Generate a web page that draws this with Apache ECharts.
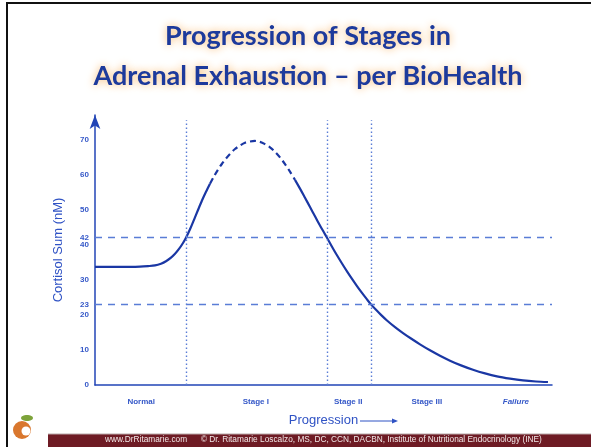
<!DOCTYPE html>
<html>
<head>
<meta charset="utf-8">
<script src="https://cdn.jsdelivr.net/npm/echarts@6/dist/echarts.min.js"></script>
<style>
  html, body { margin: 0; padding: 0; background: #fff; }
  #main { width: 591px; height: 447px; }
</style>
</head>
<body>
<div id="main"></div>
<script>
// progression (0-100) and cortisol sum (nM)
var progressX = [0, 4.38, 7.66, 9.85, 11.60, 13.13, 14.44, 15.54, 16.63, 17.51, 18.38, 19.26, 19.91, 20.79, 21.66, 22.54,
                 23.41, 24.29, 25.16, 26.04, 26.91, 27.79, 28.67, 29.54, 30.63, 31.73, 32.82, 33.92, 35.01, 36.11, 37.20,
                 38.29, 39.39, 40.48, 41.58, 42.67, 43.76, 44.86, 45.95, 47.05, 48.14, 49.23, 50.11, 50.77, 51.86, 52.95,
                 54.05, 55.14, 56.24, 57.33, 58.42, 59.52, 60.39, 61.49, 62.58, 63.89, 65.65, 67.40, 69.15, 71.12, 73.30,
                 75.49, 77.68, 80.09, 82.71, 85.34, 87.96, 90.81, 93.65, 96.50, 99.12];
var cortisol = [33.7, 33.7, 33.7, 33.75, 33.9, 34.1, 34.6, 35.3, 36.3, 37.4, 38.8, 40.5, 42.0, 44.4, 47.1, 49.9,
                52.6, 55.1, 57.4, 59.5, 61.4, 63.1, 64.6, 65.9, 67.3, 68.3, 69.1, 69.45, 69.6, 69.35, 68.7,
                67.8, 66.5, 64.9, 63.0, 60.85, 58.5, 56.0, 53.4, 50.75, 48.1, 45.5, 43.5, 42.0, 39.45, 37.0,
                34.65, 32.4, 30.25, 28.2, 26.25, 24.4, 23.0, 21.45, 20.0, 18.4, 16.5, 14.8, 13.25, 11.6, 9.9,
                8.35, 6.95, 5.6, 4.35, 3.3, 2.45, 1.8, 1.3, 1.0, 0.85];
var dashFrom = 25.16, dashTo = 43.76;   // peak part drawn dashed

var stageNames = ['Normal', 'Stage I', 'Stage II', 'Stage III', 'Failure'];
var stagePos = [10.1, 35.2, 55.4, 72.6, 92.1];
var stageBounds = [19.91, 50.77, 60.39];
var thresholds = [42, 23];
var yTicks = [0, 10, 20, 23, 30, 40, 42, 50, 60, 70];

var blue = '#2245b6';
var curveBlue = '#1a37a4';
var lightBlue = '#5a7dd6';

function seg(lo, hi) {
    var out = [];
    for (var i = 0; i < progressX.length; i++) {
        out.push(progressX[i] >= lo && progressX[i] <= hi ? [progressX[i], cortisol[i]] : [progressX[i], null]);
    }
    return out;
}

var myChart = echarts.init(document.getElementById('main'));

var option = {
    animation: false,
    title: {
        text: 'Progression of Stages in\nAdrenal Exhaustion \u2013 per BioHealth',
        left: 303,
        textAlign: 'center',
        top: 11,
        textStyle: {
            fontFamily: 'Lato',
            fontWeight: 'bold',
            fontSize: 27,
            lineHeight: 40,
            color: '#1d3a9c',
            textShadowColor: '#f7b66a',
            textShadowBlur: 8
        }
    },
    grid: { left: 95, right: 39, top: 115, bottom: 62 },
    xAxis: {
        type: 'value',
        min: 0,
        max: 100,
        splitLine: { show: false },
        axisTick: { show: false },
        axisLine: { lineStyle: { color: blue, width: 1.5 } },
        axisLabel: {
            customValues: stagePos,
            margin: 13,
            fontFamily: 'Liberation Sans',
            fontSize: 8,
            fontWeight: 'bold',
            color: '#3558c8',
            formatter: function (v) {
                var name = stageNames[stagePos.indexOf(v)] || '';
                return name === 'Failure' ? '{it|Failure}' : name;
            },
            rich: { it: { fontStyle: 'italic', fontSize: 8, fontWeight: 'bold', color: '#3558c8', fontFamily: 'Liberation Sans' } }
        },
        name: 'Progression',
        nameLocation: 'middle',
        nameGap: 29,
        nameTextStyle: { fontFamily: 'Liberation Sans', fontSize: 13, color: '#2f52c4' }
    },
    yAxis: {
        type: 'value',
        min: 0,
        max: 77,
        splitLine: { show: false },
        axisTick: { show: false },
        axisLine: { symbol: ['none', 'arrow'], symbolSize: [8, 14], lineStyle: { color: blue, width: 1.5 } },
        axisLabel: {
            customValues: yTicks,
            margin: 6,
            fontFamily: 'Liberation Sans',
            fontSize: 8,
            fontWeight: 'bold',
            color: '#3558c8'
        },
        name: 'Cortisol Sum (nM)',
        nameLocation: 'middle',
        nameGap: 30,
        nameTextStyle: { fontFamily: 'Liberation Sans', fontSize: 13, color: '#2f52c4' }
    },
    graphic: [
        { type: 'rect', shape: { x: 7, y: 3, width: 600, height: 450 }, style: { fill: 'none', stroke: '#111', lineWidth: 2 } },
        { type: 'rect', shape: { x: 48, y: 434, width: 543, height: 13 }, style: { fill: '#6e1b24' } },
        { type: 'line', shape: { x1: 48, y1: 434, x2: 591, y2: 434 }, style: { stroke: '#b9a8a8', lineWidth: 1 } },
        { type: 'text', x: 105, y: 440, style: { text: 'www.DrRitamarie.com      \u00a9 Dr. Ritamarie Loscalzo, MS, DC, CCN, DACBN, Institute of Nutritional Endocrinology (INE)', fill: '#f2e8e8', fontSize: 8.3, fontFamily: 'Liberation Sans', verticalAlign: 'middle' } },
        // arrow after "Progression"
        { type: 'line', shape: { x1: 360, y1: 421, x2: 394, y2: 421 }, style: { stroke: '#2f52c4', lineWidth: 1 } },
        { type: 'polygon', shape: { points: [[392, 418.5], [398, 421], [392, 423.5]] }, style: { fill: '#2f52c4' } },
        // small apple logo
        { type: 'circle', shape: { cx: 22, cy: 430, r: 9 }, style: { fill: '#d9772e' } },
        { type: 'circle', shape: { cx: 26, cy: 431, r: 4.5 }, style: { fill: '#ffffff' } },
        { type: 'ellipse', shape: { cx: 27, cy: 418, rx: 6, ry: 3 }, style: { fill: '#7da33a' } }
    ],
    series: [
        {
            type: 'line',
            smooth: 0.3,
            showSymbol: false,
            data: seg(0, dashFrom),
            lineStyle: { color: curveBlue, width: 2.2, join: 'round' },
            markLine: {
                silent: true,
                symbol: 'none',
                label: { show: false },
                lineStyle: { color: lightBlue, type: [7, 6], width: 1.4 },
                data: thresholds.map(function (t) { return { yAxis: t }; })
            }
        },
        {
            type: 'line',
            smooth: 0.3,
            showSymbol: false,
            data: seg(dashFrom, dashTo),
            lineStyle: { color: curveBlue, width: 2.2, type: [6, 4], join: 'round' }
        },
        {
            type: 'line',
            smooth: 0.3,
            showSymbol: false,
            data: seg(dashTo, 100),
            lineStyle: { color: curveBlue, width: 2.2, join: 'round' },
            markLine: {
                silent: true,
                symbol: 'none',
                label: { show: false },
                lineStyle: { color: lightBlue, type: [1.5, 2.5], width: 1.4 },
                data: stageBounds.map(function (b) { return [{ coord: [b, 0] }, { coord: [b, 75.5] }]; })
            }
        }
    ]
};
myChart.setOption(option);
</script>
</body>
</html>
